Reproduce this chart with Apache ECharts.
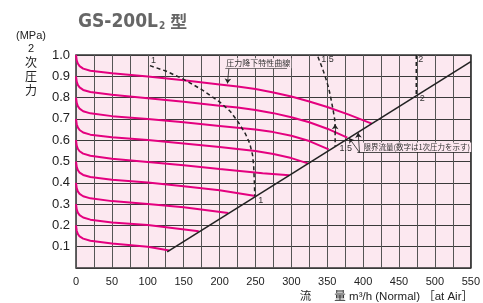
<!DOCTYPE html>
<html>
<head>
<meta charset="utf-8">
<script src="https://cdn.jsdelivr.net/npm/echarts@6/dist/echarts.min.js"></script>
<style>
html,body{margin:0;padding:0;background:#fff;}
#chart{width:483px;height:303px;}
</style>
</head>
<body>
<div id="chart"></div>
<script>
// 圧力降下特性曲線 (flow m3/h, 2次圧力 MPa), one per set pressure
const drop10 = [[0,1.0],[1,0.975],[2.5,0.96],[5,0.948],[10,0.936],[20,0.926],[50,0.914],[100,0.899],[150,0.881],[200,0.862],[225,0.852],[250,0.84],[275,0.824],[300,0.805],[325,0.782],[350,0.756],[380,0.72],[412,0.678]];
const drop09 = [[0,0.9],[1,0.875],[2.5,0.86],[5,0.848],[10,0.836],[20,0.826],[50,0.813],[100,0.797],[150,0.78],[200,0.762],[225,0.753],[250,0.742],[275,0.727],[300,0.708],[325,0.684],[350,0.654],[378,0.612]];
const drop08 = [[0,0.8],[1,0.775],[2.5,0.76],[5,0.748],[10,0.736],[20,0.726],[50,0.713],[100,0.699],[150,0.684],[200,0.667],[250,0.65],[275,0.638],[300,0.621],[325,0.596],[352,0.557]];
const drop07 = [[0,0.7],[1,0.675],[2.5,0.66],[5,0.648],[10,0.636],[20,0.626],[50,0.614],[100,0.601],[150,0.585],[200,0.568],[250,0.549],[275,0.535],[300,0.516],[323,0.491]];
const drop06 = [[0,0.6],[1,0.575],[2.5,0.56],[5,0.548],[10,0.537],[20,0.527],[50,0.513],[100,0.498],[150,0.482],[200,0.465],[260,0.445],[297,0.435]];
const drop05 = [[0,0.5],[1,0.475],[2.5,0.46],[5,0.448],[10,0.437],[20,0.427],[50,0.414],[100,0.401],[150,0.384],[200,0.365],[250,0.338]];
const drop04 = [[0,0.4],[1,0.375],[2.5,0.36],[5,0.348],[10,0.337],[20,0.327],[50,0.314],[100,0.3],[150,0.285],[212,0.258]];
const drop03 = [[0,0.3],[1,0.275],[2.5,0.26],[5,0.248],[10,0.237],[20,0.227],[50,0.214],[100,0.202],[171,0.172]];
const drop02 = [[0,0.2],[1,0.175],[2.5,0.16],[5,0.148],[10,0.138],[20,0.128],[50,0.115],[100,0.1],[130,0.082]];
const dropCurves = [drop10, drop09, drop08, drop07, drop06, drop05, drop04, drop03, drop02];

// 限界流量 line and 1次圧力 dashed lines
const limitLine = [[127,0.076],[550,0.969]];
const inlet1 = [[103,0.95],[125,0.925],[150,0.886],[175,0.838],[200,0.78],[215,0.735],[226,0.685],[236,0.63],[242,0.585],[246,0.53],[247.5,0.48],[248.5,0.4],[249,0.338]];
const inlet15 = [[337,0.992],[343,0.94],[348,0.89],[352,0.845],[355,0.797],[358,0.745],[360.5,0.695],[361,0.64],[361,0.571]];
const inlet2 = [[474,1.0],[474,0.811]];

let chart = echarts.init(document.getElementById('chart'));

let series = dropCurves.map(d => ({
    type: 'line',
    data: d,
    showSymbol: false,
    lineStyle: { color: '#e4007f', width: 2 },
    z: 3
}));
[inlet1, inlet15, inlet2].forEach(d => {
    series.push({
        type: 'line',
        data: d,
        showSymbol: false,
        lineStyle: { color: '#222', width: 1.5, type: [4, 3] },
        z: 4
    });
});
series.push({
    type: 'line',
    data: limitLine,
    showSymbol: false,
    lineStyle: { color: '#222', width: 1.6 },
    z: 4,
    markLine: {
        silent: true,
        symbol: ['none', 'arrow'],
        symbolSize: 5,
        label: { show: false },
        lineStyle: { color: '#222', width: 0.8, type: 'solid' },
        data: [
            [{ coord: [213, 0.939] }, { coord: [211, 0.866] }],
            [{ coord: [395, 0.542] }, { coord: [380.5, 0.61] }],
            [{ coord: [395, 0.542] }, { coord: [393, 0.635] }],
            [{ coord: [361, 0.64] }, { coord: [361, 0.675] }],
            [{ coord: [208, 0.939], symbol: 'none' }, { coord: [294, 0.939], symbol: 'none' }],
            [{ coord: [392, 0.542], symbol: 'none' }, { coord: [548, 0.542], symbol: 'none' }]
        ]
    }
});

let option = {
    animation: false,
    title: {
        text: '{a|GS-200L}{b|2}{c| 型}',
        left: 73,
        top: 5,
        textStyle: {
            rich: {
                a: { fontFamily: 'DejaVu Sans Condensed', fontWeight: 'bold', fontSize: 19, color: '#666', lineHeight: 24 },
                b: { fontFamily: 'DejaVu Sans Condensed', fontWeight: 'bold', fontSize: 10, color: '#666', lineHeight: 24, padding: [8, 1, 0, 1] },
                c: { fontFamily: 'Noto Sans CJK JP', fontWeight: 'bold', fontSize: 17, color: '#666', lineHeight: 24 }
            }
        }
    },
    grid: {
        left: 76, right: 10, top: 55, bottom: 35,
        show: true,
        backgroundColor: '#fce8f0',
        borderColor: '#333',
        borderWidth: 1.5
    },
    xAxis: {
        type: 'value',
        min: 0, max: 550, interval: 25,
        axisLine: { show: false },
        axisTick: { show: false },
        axisLabel: {
            formatter: v => (v % 50 === 0 ? String(v) : ''),
            fontSize: 11, color: '#222', margin: 8, fontFamily: 'Liberation Sans'
        },
        splitLine: { lineStyle: { color: '#555', width: 1 } }
    },
    yAxis: {
        type: 'value',
        min: 0, max: 1, interval: 0.1,
        axisLine: { show: false },
        axisTick: { show: false },
        axisLabel: {
            formatter: v => (v === 0 ? '' : v.toFixed(1)),
            fontSize: 13, color: '#222', margin: 6, fontFamily: 'Liberation Sans'
        },
        splitLine: { lineStyle: { color: '#3a3a3a', width: 1 } }
    },
    series: series
};
chart.setOption(option);

// texts placed in data units
const smallLabels = [
    ['1', 104.5, 0.972], ['1.5', 341.5, 0.977], ['2', 476.7, 0.977],
    ['1', 254, 0.319], ['1.5', 367, 0.559], ['2', 479, 0.796]
];
let toPx = (x, y) => chart.convertToPixel({ gridIndex: 0 }, [x, y]);
let graphic = smallLabels.map(l => {
    let p = toPx(l[1], l[2]);
    return {
        type: 'text', x: p[0], y: p[1], z: 10,
        style: { text: l[0], fontSize: 9, fill: '#333', fontFamily: 'Liberation Sans', verticalAlign: 'middle' }
    };
});
let p1 = toPx(208, 0.961);
graphic.push({
    type: 'text', x: p1[0], y: p1[1], z: 9,
    style: { text: '圧力降下特性曲線', fontSize: 8, fill: '#333', fontFamily: 'Noto Sans CJK JP', verticalAlign: 'middle', backgroundColor: '#fce8f0', padding: [1, 1] }
});
let p2 = toPx(399, 0.567);
graphic.push({
    type: 'text', x: p2[0], y: p2[1], z: 9,
    style: { text: '限界流量(数字は1次圧力を示す)', fontSize: 7.5, fill: '#333', fontFamily: 'Noto Sans CJK JP', verticalAlign: 'middle', backgroundColor: '#fce8f0', padding: [1, 1] }
});
// axis names
graphic.push(
    { type: 'text', x: 31, y: 36, style: { text: '(MPa)', fontSize: 11, fill: '#222', fontFamily: 'Liberation Sans', align: 'center', verticalAlign: 'middle' } },
    { type: 'text', x: 31, y: 49, style: { text: '2', fontSize: 11, fill: '#222', fontFamily: 'Liberation Sans', align: 'center', verticalAlign: 'middle' } },
    { type: 'text', x: 31, y: 62, style: { text: '次', fontSize: 12, fill: '#222', fontFamily: 'Noto Sans CJK JP', align: 'center', verticalAlign: 'middle' } },
    { type: 'text', x: 31, y: 76, style: { text: '圧', fontSize: 12, fill: '#222', fontFamily: 'Noto Sans CJK JP', align: 'center', verticalAlign: 'middle' } },
    { type: 'text', x: 31, y: 90, style: { text: '力', fontSize: 12, fill: '#222', fontFamily: 'Noto Sans CJK JP', align: 'center', verticalAlign: 'middle' } },
    { type: 'text', x: 473, y: 297, style: { text: '流　　量 m³/h (Normal) ［at Air］', fontSize: 11.5, fill: '#222', fontFamily: 'Liberation Sans, Noto Sans CJK JP', align: 'right', verticalAlign: 'middle' } }
);
chart.setOption({ graphic: graphic });
</script>
</body>
</html>
